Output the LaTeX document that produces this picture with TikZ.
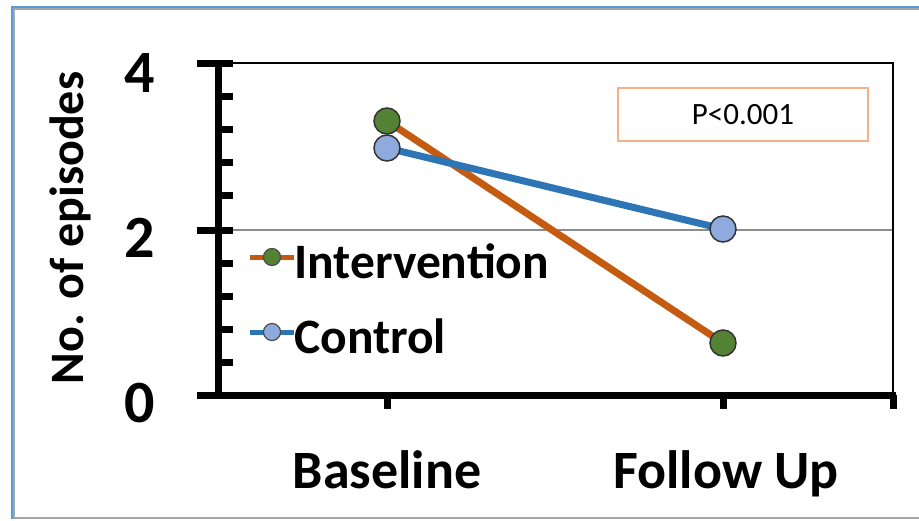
\documentclass[tikz,border=0pt]{standalone}
\usepackage{fontspec}
\setmainfont{Carlito}
\definecolor{orng}{HTML}{C55A11}
\definecolor{blu}{HTML}{2E75B6}
\definecolor{grn}{HTML}{548235}
\definecolor{lblu}{HTML}{8FAADC}
\definecolor{frameblue}{HTML}{5B9BD5}
\definecolor{pbox}{HTML}{F4B183}
\begin{document}
\begin{tikzpicture}[x=1pt,y=-1pt,
  bigmark/.style={circle,inner sep=0pt,minimum size=26pt,draw=black!80,line width=1.5pt},
  smallmark/.style={circle,inner sep=0pt,minimum size=17pt,draw=black!70,line width=1.2pt},
  dataline/.style={line width=7pt},
  legline/.style={line width=5pt},
  axisline/.style={line width=7pt,black},
  ticklab/.style={font=\fontsize{60}{64}\selectfont\bfseries,anchor=base},
  catlab/.style={font=\fontsize{54}{58}\selectfont\bfseries,anchor=base},
  legtext/.style={font=\fontsize{49.5}{52}\selectfont\bfseries,anchor=base west,inner sep=0pt}]
\useasboundingbox (0,0) rectangle (919,520);
% outer frame
\draw[black!35,line width=1.5pt] (925,9) -- (14,9) -- (14,518) -- (925,518);
\draw[frameblue,line width=2pt] (925,7) -- (12,7) -- (12,519);
% plot frame and grid
\draw[black!45,line width=1.5pt] (218,230) -- (893,230);
\draw[black,line width=2pt] (218,63) -- (893,63) -- (893,395);
% y axis
\draw[axisline] (218,63) -- (218,395);
\draw[axisline] (197,63) -- (233,63);
\draw[axisline] (197,230) -- (233,230);
\foreach \k in {1,2,3,4} {
  \draw[axisline] (218,{63+33.2*\k}) -- (233,{63+33.2*\k});
  \draw[axisline] (218,{230+33*\k}) -- (233,{230+33*\k});
}
% x axis
\draw[axisline] (197,395) -- (896,395);
\draw[axisline] (387,395) -- (387,409);
\draw[axisline] (723,395) -- (723,409);
\draw[axisline] (893,395) -- (893,409);
% tick labels
\node[ticklab] (t4) at (140,92) {4};
\node[ticklab] (t2) at (140,257) {2};
\node[ticklab] (t0) at (140,422) {0};
\node[catlab] (cb) at (387,488) {Baseline};
\node[catlab] (cf) at (726,488) {Follow Up};
\node[font=\fontsize{48}{50}\selectfont\bfseries,rotate=90,anchor=base] (ytitle) at (83,228) {No. of episodes};
% data
\coordinate (i1) at (387,121);
\coordinate (i2) at (723,343);
\coordinate (c1) at (387,148);
\coordinate (c2) at (723,229);
\draw[orng,dataline] (i1) -- (i2);
\node[bigmark,fill=grn] (mi1) at (i1) {};
\node[bigmark,fill=grn] (mi2) at (i2) {};
\draw[blu,dataline] (c1) -- (c2);
\node[bigmark,fill=lblu] (mc1) at (c1) {};
\node[bigmark,fill=lblu] (mc2) at (c2) {};
% legend
\coordinate (la1) at (250,257);
\coordinate (lb1) at (294,257);
\draw[orng,legline] (la1) -- (lb1);
\node[smallmark,fill=grn] (lm1) at (272,257) {};
\node[legtext] (lt1) at (294,278) {Intervention};
\coordinate (la2) at (250,332);
\coordinate (lb2) at (294,332);
\draw[blu,legline] (la2) -- (lb2);
\node[smallmark,fill=lblu] (lm2) at (272,332) {};
\node[legtext] (lt2) at (294,353) {Control};
% p value box
\node[draw=pbox,line width=1.3pt,minimum width=250pt,minimum height=53pt,inner sep=0pt,font=\fontsize{31}{34}\selectfont] (pbox) at (743,114.5) {P<0.001};
\end{tikzpicture}
\end{document}
